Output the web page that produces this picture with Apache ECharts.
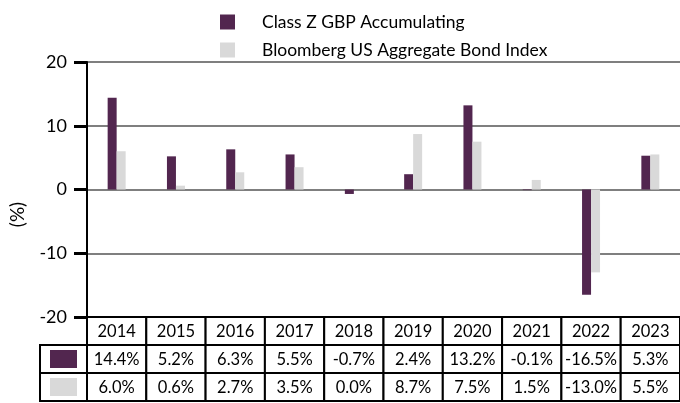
<!DOCTYPE html>
<html>
<head>
<meta charset="utf-8">
<script src="https://cdn.jsdelivr.net/npm/echarts@6/dist/echarts.min.js"></script>
<style>
  html, body { margin: 0; padding: 0; background: #fff; }
  #chart { width: 680px; height: 403px; }
</style>
</head>
<body>
<div id="chart"></div>
<script>
// 年度與兩組報酬率
const years = ["2014", "2015", "2016", "2017", "2018", "2019", "2020", "2021", "2022", "2023"];
const classZ = [14.4, 5.2, 6.3, 5.5, -0.7, 2.4, 13.2, -0.1, -16.5, 5.3];
const bloomberg = [6.0, 0.6, 2.7, 3.5, 0.0, 8.7, 7.5, 1.5, -13.0, 5.5];
const seriesNames = ["Class Z GBP Accumulating", "Bloomberg US Aggregate Bond Index"];
const colors = ["#52264f", "#d9d9d9"];
const yMin = -20;
const yMax = 20;
const yStep = 10;

const font = "Lato, 'Open Sans', sans-serif";
const pct = (v) => v.toFixed(1) + "%";

// 表格資料: [欄, 列, 文字]
const tableRows = ["head", "z", "b"];
const tableData = [];
years.forEach((y, i) => {
  tableData.push([i, 0, y]);
  tableData.push([i, 1, pct(classZ[i])]);
  tableData.push([i, 2, pct(bloomberg[i])]);
});
const swatchData = [[0, 0, colors[0]], [0, 1, colors[1]]];

function cellRender(params, api) {
  const c = api.coord([api.value(0), api.value(1)]);
  const s = api.size([1, 1]);
  return {
    type: "group",
    children: [
      {
        type: "rect",
        shape: { x: c[0] - s[0] / 2, y: c[1] - s[1] / 2, width: s[0], height: s[1] },
        style: { fill: "#fff", stroke: "#000", lineWidth: 2 },
      },
      {
        type: "text",
        style: {
          x: c[0], y: c[1] + 1,
          text: tableData[params.dataIndex][2],
          align: "center", verticalAlign: "middle",
          font: "16.5px " + font, fill: "#000",
        },
      },
    ],
  };
}

function swatchRender(params, api) {
  const c = api.coord([api.value(0), api.value(1)]);
  const s = api.size([1, 1]);
  return {
    type: "group",
    children: [
      {
        type: "rect",
        shape: { x: c[0] - s[0] / 2, y: c[1] - s[1] / 2, width: s[0], height: s[1] },
        style: { fill: "#fff", stroke: "#000", lineWidth: 2 },
      },
      {
        type: "rect",
        shape: { x: c[0] - 13.5, y: c[1] - 9, width: 27, height: 18 },
        style: { fill: swatchData[params.dataIndex][2] },
      },
    ],
  };
}

const chart = echarts.init(document.getElementById("chart"));
chart.setOption({
  animation: false,
  textStyle: { fontFamily: font },
  legend: {
    orient: "vertical",
    left: 215,
    top: 8,
    itemWidth: 15,
    itemHeight: 15,
    itemGap: 10,
    icon: "rect",
    textStyle: { fontSize: 17.5, color: "#000", padding: [0, 0, 0, 22] },
    data: seriesNames,
  },
  grid: [
    { left: 87, top: 62, width: 593, height: 255 },
    { left: 87, top: 317, width: 593, height: 84 },
    { left: 40, top: 345, width: 47, height: 56 },
  ],
  xAxis: [
    {
      type: "category", gridIndex: 0, data: years,
      axisLine: { show: false }, axisTick: { show: false }, axisLabel: { show: false },
    },
    {
      type: "category", gridIndex: 1, data: years,
      axisLine: { show: false }, axisTick: { show: false }, axisLabel: { show: false },
    },
    {
      type: "category", gridIndex: 2, data: ["k"],
      axisLine: { show: false }, axisTick: { show: false }, axisLabel: { show: false },
    },
  ],
  yAxis: [
    {
      type: "value", gridIndex: 0, min: yMin, max: yMax, interval: yStep,
      name: "(%)", nameLocation: "middle", nameRotate: 90, nameGap: 60,
      nameTextStyle: { fontSize: 19, color: "#000", padding: [0, 50, 0, 0] },
      axisLine: { show: true, lineStyle: { color: "#000", width: 2 } },
      axisTick: { show: true, length: 13, lineStyle: { color: "#000", width: 3 } },
      axisLabel: { fontSize: 18, color: "#000", margin: 20 },
      splitLine: { lineStyle: { color: "#7f7f7f", width: 2 } },
    },
    {
      type: "category", gridIndex: 1, data: tableRows, inverse: true,
      axisLine: { show: false }, axisTick: { show: false }, axisLabel: { show: false },
    },
    {
      type: "category", gridIndex: 2, data: ["z", "b"], inverse: true,
      axisLine: { show: false }, axisTick: { show: false }, axisLabel: { show: false },
    },
  ],
  series: [
    {
      name: seriesNames[0], type: "bar", xAxisIndex: 0, yAxisIndex: 0,
      data: classZ, barWidth: 9, barGap: "0%", itemStyle: { color: colors[0] },
    },
    {
      name: seriesNames[1], type: "bar", xAxisIndex: 0, yAxisIndex: 0,
      data: bloomberg, barWidth: 9, barGap: "0%", itemStyle: { color: colors[1] },
    },
    {
      type: "custom", xAxisIndex: 1, yAxisIndex: 1,
      data: tableData, renderItem: cellRender,
    },
    {
      type: "custom", xAxisIndex: 2, yAxisIndex: 2,
      data: swatchData, renderItem: swatchRender,
    },
  ],
});
</script>
</body>
</html>
